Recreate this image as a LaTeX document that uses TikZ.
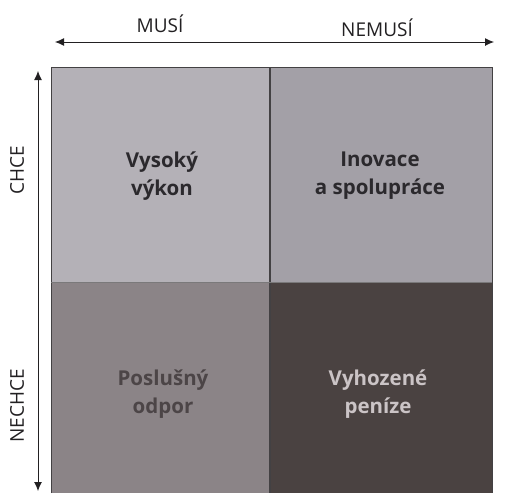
\documentclass[tikz,border=0pt]{standalone}
\usepackage{fontspec}
\setmainfont{Open Sans}
\definecolor{axis}{HTML}{222022}
\definecolor{qtl}{HTML}{B4B1B7}
\definecolor{qtr}{HTML}{A3A0A7}
\definecolor{qbl}{HTML}{8B8487}
\definecolor{qbr}{HTML}{4A4241}
\definecolor{txtdark}{HTML}{2B292D}
\definecolor{txtmid}{HTML}{4C4547}
\definecolor{txtlight}{HTML}{CBC4C6}
\usetikzlibrary{arrows.meta,positioning}

\begin{document}
\begin{tikzpicture}[x=1pt,y=-1pt,
    quad/.style={draw=axis!85,line width=1pt},
    qtext/.style={align=center,font=\fontsize{20.5}{28}\selectfont\bfseries},
    axlabel/.style={font=\fontsize{19}{21}\selectfont,text=axis},
    axarrow/.style={draw=axis,line width=0.9pt,{Latex[length=9pt,width=8pt]}-{Latex[length=9pt,width=8pt]}},
  ]
    \useasboundingbox (0,0) rectangle (511,493);

    % quadrants
    \fill[qtl] (51,67) rectangle (270,282);
    \fill[qtr] (270,67) rectangle (492,282);
    \fill[qbl] (51,282) rectangle (270,493);
    \fill[qbr] (270,282) rectangle (492,493);
    \draw[quad] (51,493) -- (51,67) -- (492,67) -- (492,493);
    \draw[quad,line width=1.4pt] (270,67) -- (270,493);
    \draw[quad,draw=axis!60] (51,282) -- (492,282);

    % axes
    \coordinate (xl) at (55,42);
    \coordinate (xr) at (494,42);
    \coordinate (yt) at (38,71);
    \coordinate (yb) at (38,491);
    \draw[axarrow] (xl) -- (xr);
    \draw[axarrow] (yt) -- (yb);

    \node[axlabel] (must) at (160,24) {MUSÍ};
    \node[axlabel] (mustnot) at (377,28) {NEMUSÍ};
    \node[axlabel,rotate=90] (want) at (17,170) {CHCE};
    \node[axlabel,rotate=90] (wantnot) at (17,406) {NECHCE};

    % quadrant texts
    \node[qtext,text=txtdark] (high) at (162,176) {Vysoký\\výkon};
    \node[qtext,text=txtdark] (innov) at (380,176) {Inovace\\a spolupráce};
    \node[qtext,text=txtmid] (obey) at (163,394) {Poslušný\\odpor};
    \node[qtext,text=txtlight] (waste) at (378,394) {Vyhozené\\peníze};
  \end{tikzpicture}
\end{document}
